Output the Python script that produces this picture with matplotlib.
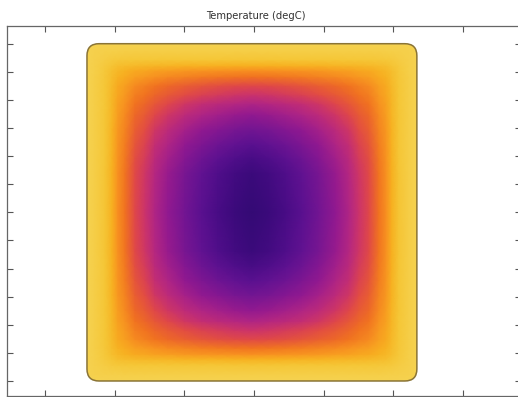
import numpy as np
import matplotlib
matplotlib.use("Agg")
import matplotlib.pyplot as plt
from matplotlib.colors import LinearSegmentedColormap, Normalize
from matplotlib.patches import FancyBboxPatch

# temperature read along the two mid-lines, from the wall (0) to the centre (1)
profile_pos_x = [0.0, 0.048, 0.109, 0.152, 0.188, 0.230, 0.291, 0.352,
                 0.412, 0.491, 0.594, 0.697, 0.794, 0.897, 1.0]
profile_pos_y = [0.0, 0.041, 0.095, 0.130, 0.160, 0.195, 0.249, 0.302,
                 0.355, 0.420, 0.509, 0.598, 0.680, 0.769, 1.0]
profile_temp = [100, 98, 94, 88, 82, 78, 70, 66, 60, 54, 46, 39, 33, 27.5, 24]

t_min, t_max = 20, 100   # colour range

# plate extent (x, y)
plate_x = (-2.40, 2.34)
plate_y = (0.0, 12.0)

x_ticks = [-3, -2, -1, 0, 1, 2, 3]
y_ticks = list(range(0, 13))

title = "Temperature (degC)"

cmap_stops = [0.0, 0.05, 0.10, 0.16, 0.24, 0.32, 0.42, 0.50, 0.57, 0.63,
              0.72, 0.78, 0.85, 0.93, 1.0]
cmap_colors = ["#300a70", "#340a75", "#3c0a7c", "#480c85", "#5a1090",
               "#701592", "#901890", "#b02585", "#c83070", "#e04848",
               "#f07020", "#f79020", "#f7b020", "#f5c636", "#f5d250"]
cmap = LinearSegmentedColormap.from_list("heat", list(zip(cmap_stops, cmap_colors)))

t_wall, t_core = profile_temp[0], profile_temp[-1]
tmp = np.array(profile_temp, dtype=float)


def axis_nodes(pos, lo, hi):
    pos = np.array(pos)
    hw = (hi - lo) / 2
    left = lo + pos * hw
    right = (hi - pos[:-1] * hw)[::-1]
    vals = np.concatenate([tmp, tmp[:-1][::-1]])
    return np.concatenate([left, right]), vals


xs, tx = axis_nodes(profile_pos_x, *plate_x)
ys, ty = axis_nodes(profile_pos_y, *plate_y)

# table of node temperatures from the two mid-line profiles
gx = (t_wall - tx) / (t_wall - t_core)
gy = (t_wall - ty) / (t_wall - t_core)
GX, GY = np.meshgrid(gx, gy)
den = GX + GY - GX * GY
G = np.where(den > 0, GX * GY / np.where(den > 0, den, 1), 0)
field = t_wall - G * (t_wall - t_core)
X, Y = np.meshgrid(xs, ys)

fig = plt.figure(figsize=(5.18, 3.97), dpi=100)
ax = fig.add_axes([7 / 518, 1 / 397, 514 / 518, 370 / 397])

mesh = ax.pcolormesh(X, Y, field, shading="gouraud", cmap=cmap,
                     norm=Normalize(t_min, t_max), zorder=1)

rx = 12 / 69.6
ry = 12 / 28.1
plate = FancyBboxPatch((plate_x[0], plate_y[0]), plate_x[1] - plate_x[0],
                       plate_y[1] - plate_y[0],
                       boxstyle="round,pad=0,rounding_size={}".format(rx),
                       mutation_aspect=ry / rx, facecolor="none",
                       edgecolor="#8a7436", lw=1.1, zorder=2)
ax.add_patch(plate)
mesh.set_clip_path(plate)

ax.set_xlim(-3.549, 3.836)
ax.set_ylim(-0.534, 12.63)
ax.set_xticks(x_ticks)
ax.set_yticks(y_ticks)
ax.tick_params(direction="in", length=4, width=0.8, color="#555555",
               top=True, right=True, bottom=True, left=True,
               labelbottom=False, labelleft=False)
for sp in ax.spines.values():
    sp.set_color("#666666")
    sp.set_linewidth(0.9)

ax.set_title(title, fontsize=7.2, color="#333333", pad=5, x=(256 - 7) / 514)

fig.savefig("out.png", dpi=100)
